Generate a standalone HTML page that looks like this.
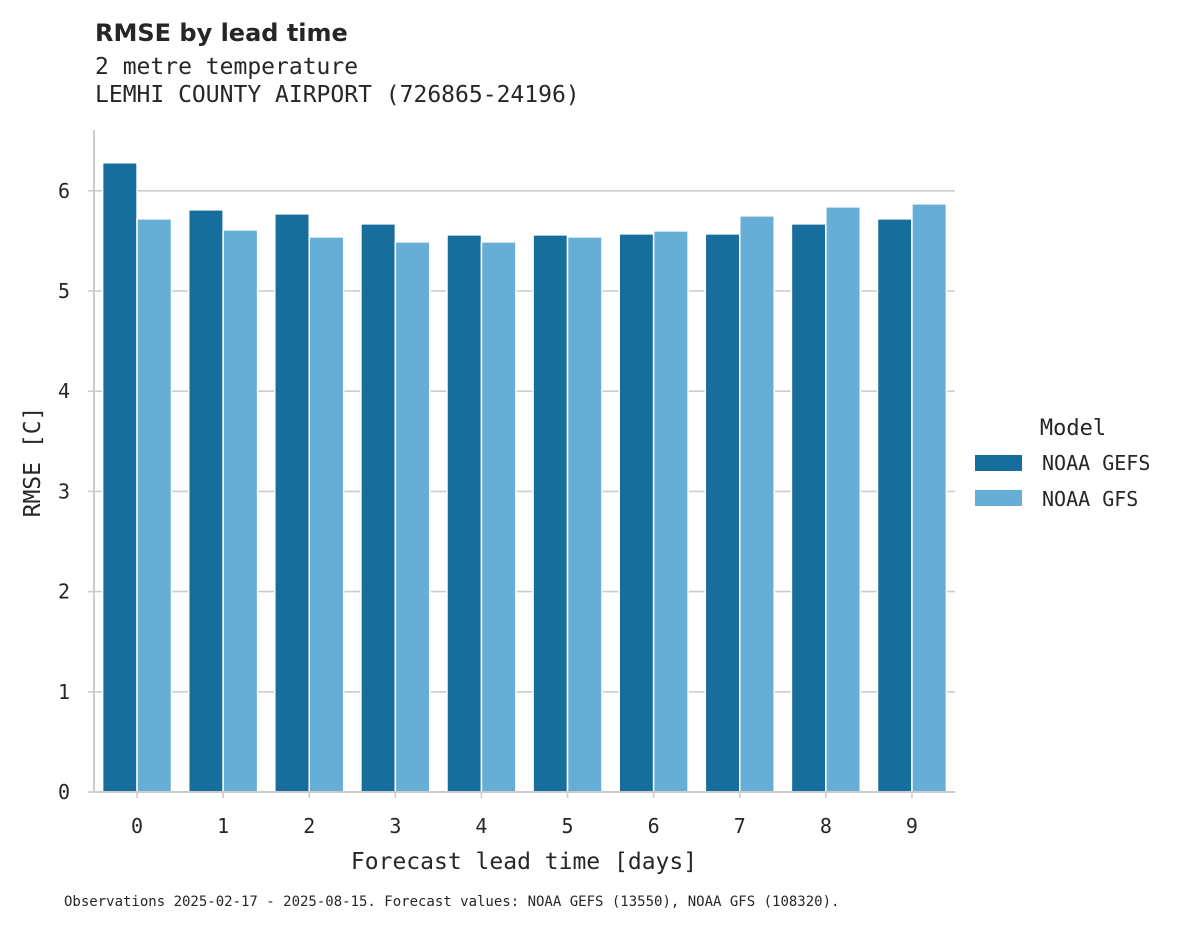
<!DOCTYPE html>
<html><head><meta charset="utf-8">
<style>
body{margin:0;background:#fff;}
svg text{fill:#262626;}
.mono{font-family:"DejaVu Sans Mono","Liberation Mono",monospace;}
</style></head>
<body>
<svg id="chart" width="1195" height="928" xmlns="http://www.w3.org/2000/svg">
<rect width="1195" height="928" fill="#fff"/>
<text x="95" y="41" font-family="DejaVu Sans, Liberation Sans, sans-serif" font-weight="bold" font-size="24">RMSE by lead time</text>
<text class="mono" x="95" y="74" font-size="23">2 metre temperature</text>
<text class="mono" x="95" y="102" font-size="23">LEMHI COUNTY AIRPORT (726865-24196)</text>
<g id="grid"></g>
<g id="bars"></g>
<g id="axes"></g>
<text class="mono" font-size="23" transform="translate(40,462) rotate(-90)" text-anchor="middle">RMSE [C]</text>
<text class="mono" font-size="23" x="524" y="869" text-anchor="middle">Forecast lead time [days]</text>
<text class="mono" font-size="22" x="1073" y="435" text-anchor="middle">Model</text>
<rect x="975" y="455" width="47" height="16" fill="#176d9c"/>
<text class="mono" font-size="20" x="1042" y="470">NOAA GEFS</text>
<rect x="975" y="490" width="47" height="16" fill="#67aed6"/>
<text class="mono" font-size="20" x="1042" y="506">NOAA GFS</text>
<text class="mono" font-size="14" x="64" y="906">Observations 2025-02-17 - 2025-08-15. Forecast values: NOAA GEFS (13550), NOAA GFS (108320).</text>
</svg>
<script>
const categories = [0,1,2,3,4,5,6,7,8,9];
const gefsValues = [6.28,5.81,5.77,5.67,5.56,5.56,5.57,5.57,5.67,5.72];
const gfsValues = [5.72,5.61,5.54,5.49,5.49,5.54,5.60,5.75,5.84,5.87];
const yTicks = [0,1,2,3,4,5,6];

const NS="http://www.w3.org/2000/svg";
const x0=94,x1=955,y0=792,pxPerUnit=100.2;
const band=(x1-x0)/categories.length;
function yScale(v){return y0-v*pxPerUnit;}
function xCenter(i){return x0+band*(i+0.5);}
function mk(tag,attrs,parent){const e=document.createElementNS(NS,tag);for(const k in attrs)e.setAttribute(k,attrs[k]);parent.appendChild(e);return e;}
const grid=document.getElementById('grid'),bars=document.getElementById('bars'),axes=document.getElementById('axes');
yTicks.forEach(t=>{
  if(t>0){const l=mk('line',{x1:x0,x2:x1,y1:yScale(t),y2:yScale(t),stroke:'#cccccc','stroke-width':1.6},grid);
  
  }
  const tk=mk('line',{x1:x0-6,x2:x0,y1:yScale(t),y2:yScale(t),stroke:'#cccccc','stroke-width':1.6},axes);
  
  
  const tx=mk('text',{x:x0-24,y:yScale(t)+7,'text-anchor':'end','font-size':20,class:'mono'},axes);
  
  
  tx.textContent=t;
});
const groupW=band*0.8,bw=groupW/2;
categories.forEach((c,i)=>{
  const cx=xCenter(i);
  const b1=mk('rect',{x:cx-bw,y:yScale(gefsValues[i]),width:bw,height:y0-yScale(gefsValues[i]),fill:'#176d9c',stroke:'#fff','stroke-width':1.5},bars);
  
  
  const b2=mk('rect',{x:cx,y:yScale(gfsValues[i]),width:bw,height:y0-yScale(gfsValues[i]),fill:'#67aed6',stroke:'#fff','stroke-width':1.5},bars);
  
  
  const tk=mk('line',{x1:cx,x2:cx,y1:y0,y2:y0+6,stroke:'#cccccc','stroke-width':1.6},axes);
  
  
  const tx=mk('text',{x:cx,y:833,'text-anchor':'middle','font-size':20,class:'mono'},axes);
  
  
  tx.textContent=c;
});
const ls=mk('line',{x1:x0,x2:x0,y1:130,y2:y0,stroke:'#cccccc','stroke-width':2},axes);


const bs=mk('line',{x1:x0,x2:x1,y1:y0,y2:y0,stroke:'#cccccc','stroke-width':2},axes);


</script>
</body></html>
